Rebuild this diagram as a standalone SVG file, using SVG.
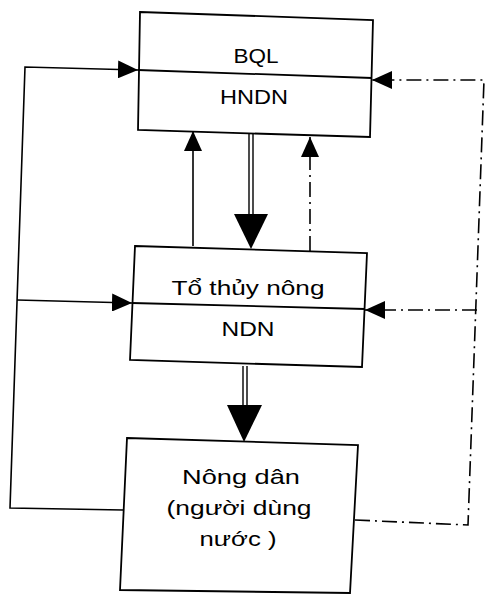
<svg xmlns="http://www.w3.org/2000/svg" width="485" height="596" viewBox="0 0 485 596">
<style>
.box{fill:#fff;stroke:#000;stroke-width:1.8}
.div{stroke:#000;stroke-width:1.8;fill:none}
.ln{stroke:#000;stroke-width:1.6;fill:none}
.dd{stroke:#000;stroke-width:1.6;fill:none;stroke-dasharray:15 5 2 5}
.dbl{stroke:#000;stroke-width:1.4;fill:none}
.head{fill:#000;stroke:none}
text{font-family:"Liberation Sans","DejaVu Sans",sans-serif;font-size:21px;fill:#000;text-anchor:middle}
</style>
<defs>
<marker id="arr" markerUnits="userSpaceOnUse" markerWidth="20" markerHeight="18" refX="20" refY="9" orient="auto">
<path d="M0,0 L20,9 L0,18 z" fill="#000"/>
</marker>
</defs>
<rect width="485" height="596" fill="#fff"/>
<g id="connectors">
<path class="ln" d="M123,510 L10,508 L25,67 L138,70" marker-end="url(#arr)"/>
<path class="ln" d="M17,300 L132,303" marker-end="url(#arr)"/>
<path class="dd" d="M355,520 L468,525 L484,80 L372,80" marker-end="url(#arr)"/>
<path class="dd" d="M477,310 L365,310" marker-end="url(#arr)"/>
<path class="ln" d="M193,246 L193,131" marker-end="url(#arr)"/>
<path class="dd" d="M310,251 L310,137" marker-end="url(#arr)"/>
<path class="dbl" d="M249,134 L249,216 M253,134 L253,216"/>
<polygon class="head" points="234,214 268,214 251,249"/>
<path class="dbl" d="M243,366 L243,407 M247,366 L247,407"/>
<polygon class="head" points="227,405 262,405 244,442"/>
</g>
<g id="bql">
<polygon class="box" points="140,12 373,20 370,137 138,130"/>
<line class="div" x1="138" y1="70" x2="372" y2="78"/>
<text x="256" y="63" textLength="45" lengthAdjust="spacingAndGlyphs">BQL</text>
<text x="254" y="104" textLength="68" lengthAdjust="spacingAndGlyphs">HNDN</text>
</g>
<g id="to-thuy-nong">
<polygon class="box" points="135,246 367,253 362,367 130,360"/>
<line class="div" x1="132" y1="303" x2="365" y2="309"/>
<text x="248" y="295" textLength="153" lengthAdjust="spacingAndGlyphs">Tổ thủy nông</text>
<text x="248" y="336" textLength="53" lengthAdjust="spacingAndGlyphs">NDN</text>
</g>
<g id="nong-dan">
<polygon class="box" points="127,438 358,445 350,593 120,590"/>
<text x="241" y="484" textLength="118" lengthAdjust="spacingAndGlyphs">Nông dân</text>
<text x="239" y="515" textLength="145" lengthAdjust="spacingAndGlyphs">(người dùng</text>
<text x="238" y="546" textLength="77" lengthAdjust="spacingAndGlyphs">nước )</text>
</g>
</svg>
